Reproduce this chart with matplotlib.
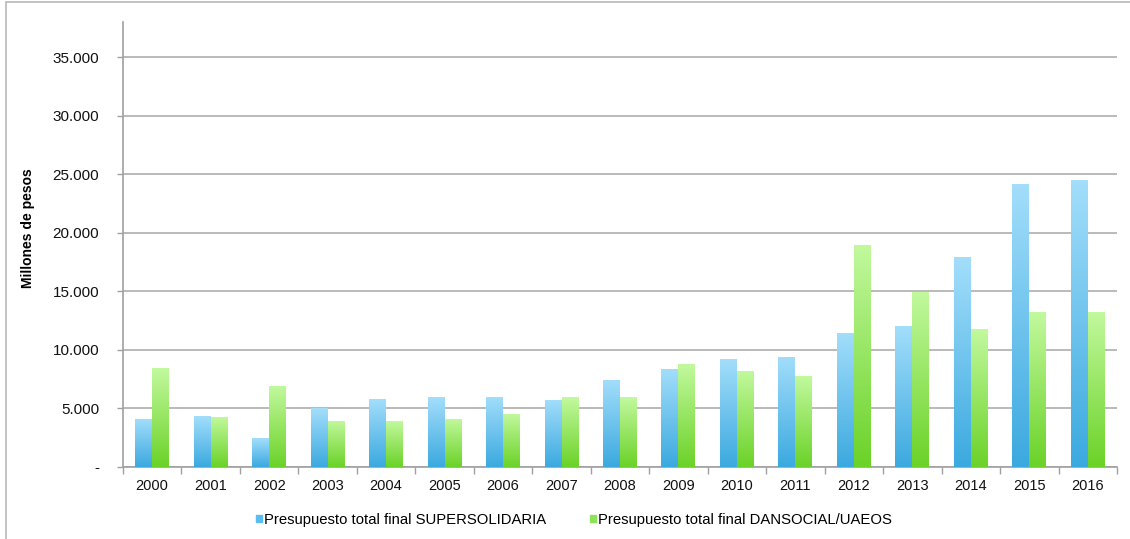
import matplotlib
matplotlib.use("Agg")
import matplotlib.pyplot as plt
import numpy as np
from matplotlib.colors import LinearSegmentedColormap
from matplotlib.patches import Patch, Rectangle
from matplotlib.ticker import FuncFormatter, FixedLocator

plt.rcParams["font.family"] = ["Liberation Sans", "DejaVu Sans"]

years = ["2000", "2001", "2002", "2003", "2004", "2005", "2006", "2007", "2008",
         "2009", "2010", "2011", "2012", "2013", "2014", "2015", "2016"]
supersolidaria = [4100, 4350, 2450, 5000, 5800, 5950, 6000, 5750, 7450,
                  8380, 9200, 9400, 11450, 12030, 17920, 24190, 24500]
dansocial = [8450, 4300, 6950, 3950, 3900, 4100, 4550, 5950, 5950,
             8780, 8200, 7750, 19000, 14950, 11750, 13200, 13250]
labels = ["Presupuesto total final SUPERSOLIDARIA",
          "Presupuesto total final DANSOCIAL/UAEOS"]

blue_cmap = LinearSegmentedColormap.from_list("blue", ["#3ba9df", "#a3defb"])
green_cmap = LinearSegmentedColormap.from_list("green", ["#6bd228", "#c2f99e"])


def thousands(x, pos):
    if x == 0:
        return "-"
    return "{:,.0f}".format(x).replace(",", ".")


fig = plt.figure(figsize=(11.3, 5.39), dpi=100)
ax = fig.add_axes([0.1088, 0.1336, 0.8797, 0.8254])

x = np.arange(len(years))
w = 0.29
gradient = np.linspace(0, 1, 256).reshape(-1, 1)
for vals, off, cmap in [(supersolidaria, -w / 2, blue_cmap), (dansocial, w / 2, green_cmap)]:
    bars = ax.bar(x + off, vals, w, color="none", edgecolor="none", zorder=3)
    for b in bars:
        bx, by = b.get_x(), b.get_y()
        bw, bh = b.get_width(), b.get_height()
        im = ax.imshow(gradient, cmap=cmap, aspect="auto", origin="lower",
                       extent=[bx, bx + bw, by, by + bh], zorder=3)
        im.set_clip_path(b)

ax.set_xlim(-0.5, len(years) - 0.5)
ax.set_ylim(0, 38000)
ax.set_yticks(np.arange(0, 35001, 5000))
ax.yaxis.set_major_formatter(FuncFormatter(thousands))
ax.yaxis.grid(True, color="#b4b4b4", linewidth=1.3, zorder=0)
ax.set_axisbelow(True)

ax.set_xticks(x)
ax.set_xticklabels(years)
ax.xaxis.set_minor_locator(FixedLocator(np.arange(-0.5, len(years), 1)))
ax.tick_params(axis="x", which="major", length=0, pad=9, labelsize=10.5, labelcolor="#111111")
ax.tick_params(axis="x", which="minor", length=5, color="#a0a0a0", width=1)
ax.tick_params(axis="y", length=4, color="#a0a0a0", width=1, labelsize=11,
               labelcolor="#111111", pad=13)

for s in ["top", "right"]:
    ax.spines[s].set_visible(False)
for s in ["left", "bottom"]:
    ax.spines[s].set_color("#a0a0a0")
    ax.spines[s].set_linewidth(1.2)

fig.text(28 / 1130, 1 - 228 / 539, "Millones de pesos", rotation=90,
         ha="center", va="center", fontsize=10, fontweight="bold")

handles = [Patch(color="#5bbdee"), Patch(color="#8ee25a")]
fig.legend(handles, labels, loc="center", bbox_to_anchor=(0.508, 1 - 520 / 539),
           ncol=2, frameon=False, fontsize=10.7, handlelength=0.38, handleheight=0.38,
           handletextpad=0.15, columnspacing=3.0)

# thin frame on the left and top
fig.add_artist(Rectangle((6 / 1130, -0.1), 1.2, 1.1 - 2.5 / 539, transform=fig.transFigure,
                         fill=False, edgecolor="#b8b8b8", linewidth=1.2))

fig.savefig("out.png", dpi=100)
